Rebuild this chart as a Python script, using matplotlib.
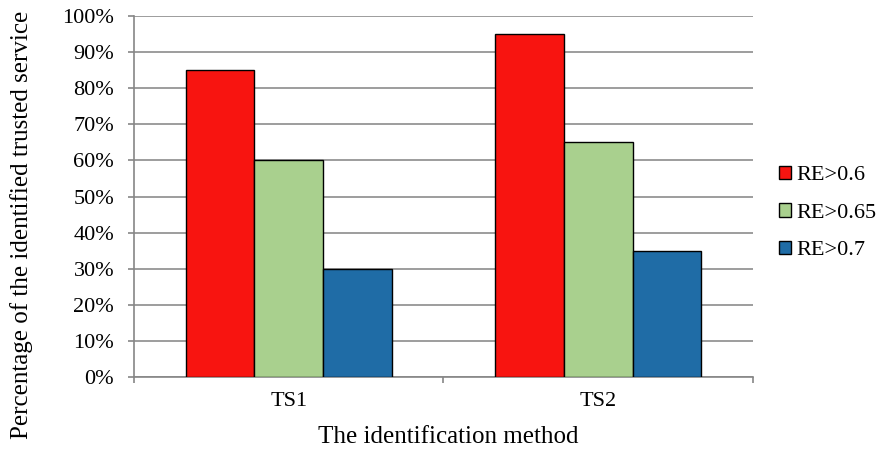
import matplotlib
matplotlib.use("Agg")
import matplotlib.pyplot as plt
import numpy as np
from matplotlib.ticker import PercentFormatter

plt.rcParams['font.family'] = ['Liberation Serif', 'DejaVu Serif']

categories = ["TS1", "TS2"]
series_names = ["RE>0.6", "RE>0.65", "RE>0.7"]
re06 = [85, 95]
re065 = [60, 65]
re07 = [30, 35]
colors = ["#f81410", "#a9d08e", "#1f6ca6"]

fig = plt.figure(figsize=(8.78, 4.51), dpi=100)
ax = fig.add_axes([134/878, 1-377/451, (753-134)/878, (377-16)/451])

x = np.arange(len(categories))
w = 0.222
for i, (vals, c, n) in enumerate(zip([re06, re065, re07], colors, series_names)):
    ax.bar(x + (i-1)*w, vals, w, color=c, edgecolor='black', linewidth=1.0, label=n, zorder=3)

ax.set_xlim(-0.5, 1.5)
ax.set_ylim(0, 100)
ax.set_yticks(np.arange(0, 101, 10))
ax.yaxis.set_major_formatter(PercentFormatter(decimals=0))
ax.set_xticks(x)
ax.set_xticklabels(categories)
ax.set_xticks([-0.5, 0.5, 1.5], minor=True)
ax.tick_params(axis='x', which='major', length=0, pad=11, labelsize=16)
ax.tick_params(axis='x', which='minor', length=4.3, color='#868686', width=1.2)
ax.tick_params(axis='y', length=4.3, color='#868686', width=1.2, labelsize=16, pad=10)
ax.grid(axis='y', color='#8c8c8c', linewidth=1.2, zorder=0)
for s in ['top', 'right']:
    ax.spines[s].set_visible(False)
for s in ['left', 'bottom']:
    ax.spines[s].set_color('#868686')
    ax.spines[s].set_linewidth(1.2)

fig.text(448/878, 1-437/451, "The identification method", fontsize=18, ha='center', va='center')
fig.text(22/878, 1-225/451, "Percentage of the identified trusted service", fontsize=18,
         rotation=90, ha='center', va='center')

ax.legend(loc='center left', bbox_to_anchor=(779/878, 1-213/451), bbox_transform=fig.transFigure,
          frameon=False, fontsize=16, handlelength=0.55, handleheight=0.55, handletextpad=0.25,
          labelspacing=0.8, borderpad=0, borderaxespad=0)

fig.savefig("out.png", dpi=100)
